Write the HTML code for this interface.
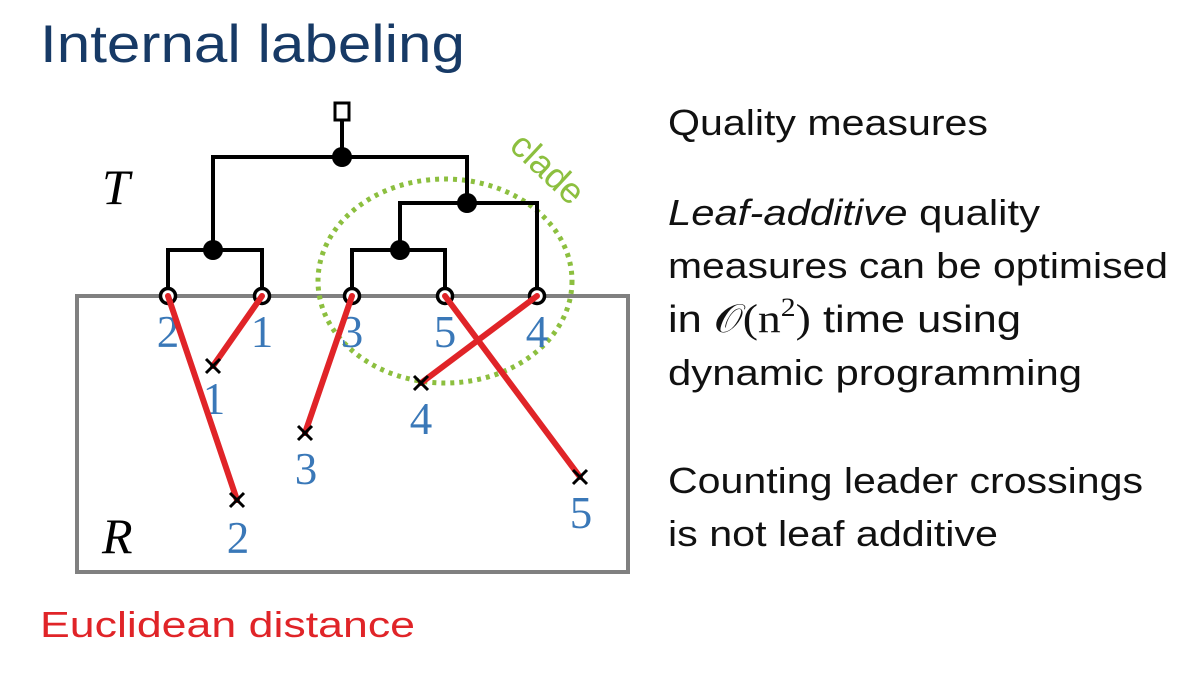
<!DOCTYPE html>
<html><head><meta charset="utf-8"><style>
html,body{margin:0;padding:0;background:#fff;}
svg{display:block;}
</style></head><body>
<svg width="1200" height="675" viewBox="0 0 1200 675" xmlns="http://www.w3.org/2000/svg">
<text x="40" y="62" font-family="Liberation Sans, sans-serif" font-size="53" fill="#173a66" textLength="425" lengthAdjust="spacingAndGlyphs">Internal labeling</text>

<!-- R box -->
<rect x="77" y="296" width="551" height="276" fill="none" stroke="#808080" stroke-width="4"/>

<!-- clade -->
<ellipse cx="445" cy="281" rx="127" ry="102" fill="none" stroke="#8cbf3f" stroke-width="5" stroke-dasharray="4 5"/>
<text x="0" y="0" transform="translate(508,148) rotate(43)" font-family="Liberation Sans, sans-serif" font-size="36" fill="#8cbf3f">clade</text>

<!-- tree -->
<g stroke="#000" stroke-width="4" fill="none">
<line x1="342" y1="120" x2="342" y2="157"/>
<polyline points="213,250 213,157 467,157 467,203"/>
<polyline points="168,296 168,250 262,250 262,296"/>
<polyline points="400,250 400,203 537,203 537,296"/>
<polyline points="352,296 352,250 445,250 445,296"/>
</g>
<rect x="335" y="103" width="14" height="17" fill="#fff" stroke="#000" stroke-width="3"/>
<g fill="#000">
<circle cx="342" cy="157" r="10"/>
<circle cx="213" cy="250" r="10"/>
<circle cx="467" cy="203" r="10"/>
<circle cx="400" cy="250" r="10"/>
</g>
<g fill="#fff" stroke="#000" stroke-width="3.5">
<circle cx="168" cy="296" r="7.5"/>
<circle cx="262" cy="296" r="7.5"/>
<circle cx="352" cy="296" r="7.5"/>
<circle cx="445" cy="296" r="7.5"/>
<circle cx="537" cy="296" r="7.5"/>
</g>

<!-- leaf labels -->
<g font-family="Liberation Serif, serif" font-size="45" fill="#3a78b8" text-anchor="middle">
<text x="168" y="347">2</text>
<text x="262" y="347">1</text>
<text x="352" y="347">3</text>
<text x="445" y="347">5</text>
<text x="537" y="347">4</text>
<text x="214" y="414">1</text>
<text x="306" y="484">3</text>
<text x="238" y="553">2</text>
<text x="421" y="434">4</text>
<text x="581" y="528">5</text>
</g>

<!-- red leaders -->
<g stroke="#e02428" stroke-width="6" stroke-linecap="round">
<line x1="168" y1="296" x2="237" y2="500"/>
<line x1="262" y1="296" x2="213" y2="366"/>
<line x1="352" y1="296" x2="305" y2="433"/>
<line x1="445" y1="296" x2="580" y2="477"/>
<line x1="537" y1="296" x2="421" y2="383"/>
</g>
<!-- crosses -->
<g stroke="#000" stroke-width="3">
<path d="M206 359 L220 373 M220 359 L206 373"/>
<path d="M298 426 L312 440 M312 426 L298 440"/>
<path d="M230 493 L244 507 M244 493 L230 507"/>
<path d="M414 376 L428 390 M428 376 L414 390"/>
<path d="M573 470 L587 484 M587 470 L573 484"/>
</g>

<g font-family="Liberation Serif, serif" font-style="italic" font-size="50" fill="#000">
<text x="102" y="204">T</text>
<text x="102" y="553">R</text>
</g>

<text x="40" y="637" font-family="Liberation Sans, sans-serif" font-size="36" fill="#e02428" textLength="375" lengthAdjust="spacingAndGlyphs">Euclidean distance</text>

<g font-family="Liberation Sans, sans-serif" font-size="36" fill="#111">
<text x="668" y="135" textLength="320" lengthAdjust="spacingAndGlyphs">Quality measures</text>
<text x="668" y="225" textLength="372" lengthAdjust="spacingAndGlyphs"><tspan font-style="italic">Leaf-additive</tspan> quality</text>
<text x="668" y="278" textLength="500" lengthAdjust="spacingAndGlyphs">measures can be optimised</text>
<text x="668" y="332" font-size="38" textLength="353" lengthAdjust="spacingAndGlyphs">in <tspan font-family="Liberation Serif, serif" font-size="40">𝒪(n</tspan><tspan font-family="Liberation Serif, serif" font-size="26" dy="-16">2</tspan><tspan font-family="Liberation Serif, serif" font-size="40" dy="16">)</tspan> time using</text>
<text x="668" y="385" textLength="414" lengthAdjust="spacingAndGlyphs">dynamic programming</text>
<text x="668" y="493" textLength="475" lengthAdjust="spacingAndGlyphs">Counting leader crossings</text>
<text x="668" y="546" textLength="330" lengthAdjust="spacingAndGlyphs">is not leaf additive</text>
</g>
</svg>
</body></html>
